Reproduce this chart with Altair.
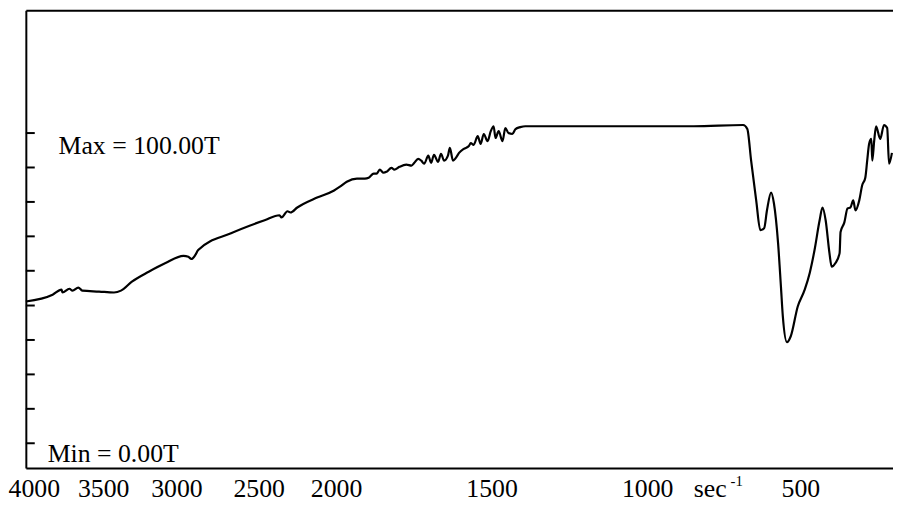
import altair as alt
import pandas as pd

# Spectrum: wavenumber (cm^-1) and transmittance (T, 0..100)
wavenumber = [4000, 3831, 3775, 3769, 3725, 3706, 3669, 3644, 3538, 3444,
              3400, 3331, 3225, 3119, 3006, 2975, 2956, 2931, 2913, 2706,
              2494, 2400, 2388, 2350, 2331, 2288, 2163, 2056, 2019, 1988,
              1956, 1931, 1919, 1903, 1894, 1884, 1872, 1863, 1847, 1838,
              1822, 1800, 1784, 1775, 1763, 1753, 1744, 1731, 1722, 1713,
              1700, 1691, 1681, 1669, 1663, 1653, 1644, 1634, 1619, 1603,
              1597, 1588, 1575, 1566, 1556, 1544, 1534, 1525, 1519, 1509,
              1497, 1488, 1478, 1466, 1456, 1441, 1425, 1206, 894, 738,
              725, 713, 697, 684, 672, 663, 650, 641, 628, 619,
              613, 600, 588, 566, 544, 528, 513, 497, 488, 478,
              466, 459, 447, 434, 431, 419, 409, 400, 391, 384,
              372, 363, 353, 347, 341, 334, 331, 325, 319, 306,
              294, 284, 278, 269]
transmittance = [45.7, 47.9, 49.5, 48.6, 49.8, 49.2, 50.2, 49.2, 48.9, 48.6,
                 49.2, 52.1, 55.3, 58.1, 60.4, 60.1, 59.4, 60.7, 62.3, 67.7,
                 71.9, 73.5, 72.8, 74.8, 74.4, 76.0, 79.2, 81.5, 82.7, 84.3,
                 85.3, 85.3, 85.6, 86.9, 86.9, 88.2, 87.2, 87.5, 88.8, 88.2,
                 89.1, 89.8, 89.5, 90.4, 91.7, 91.1, 90.1, 92.7, 90.4, 93.0,
                 90.7, 93.3, 91.1, 92.7, 95.2, 91.1, 92.0, 93.6, 94.9, 95.8,
                 96.8, 96.2, 99.0, 96.5, 99.7, 97.4, 100.6, 102.2, 98.4, 100.6,
                 97.4, 101.6, 100.0, 99.7, 101.3, 101.9, 102.2, 102.2, 102.2, 102.6,
                 101.3, 91.1, 78.3, 68.7, 69.3, 75.1, 80.8, 77.3, 64.5, 50.5,
                 40.9, 32.6, 34.5, 44.1, 49.5, 55.0, 62.3, 71.9, 76.0, 71.9,
                 61.3, 56.9, 58.1, 61.3, 68.1, 71.2, 75.7, 76.0, 78.3, 75.1,
                 78.3, 83.1, 85.6, 91.1, 96.5, 98.1, 91.1, 97.4, 102.2, 98.1,
                 102.6, 101.6, 90.1, 93.6]

tick_labels = [4000, 3500, 3000, 2500, 2000, 1500, 1000, 500]
y_ticks = [0, 11.1, 22.2, 33.3, 44.4, 55.6, 66.7, 77.8, 88.9, 100]

# Label axis: the printed labels are not evenly spaced (piecewise scale)
label_domain = [4100] + tick_labels + [265]
label_range = [0, 8, 78, 152, 235, 313, 470, 627, 781.5, 875.2]

FONT = "Liberation Serif"
FS = 26
W, H = 875, 462

df = pd.DataFrame({"wn": wavenumber, "T": transmittance,
                   "i": list(range(len(wavenumber)))})

yscale = alt.Scale(domain=[-8.0, 139.6], zero=False, nice=False)
xscale = alt.Scale(domain=[4000, 2000, 265], range=[0, 320, 875.2],
                   zero=False, nice=False)

frame_axis = dict(title=None, grid=False, labels=False, ticks=False,
                  domain=True, domainColor="black", domainWidth=2)

line = alt.Chart(df).mark_line(color="black", strokeWidth=2.2,
                               interpolate="monotone").encode(
    x=alt.X("wn:Q", scale=xscale, axis=alt.Axis(orient="top", **frame_axis)),
    y=alt.Y("T:Q", scale=yscale, axis=alt.Axis(orient="left", **frame_axis)),
    order="i:Q",
)

ticks = alt.Chart(pd.DataFrame({"t": y_ticks})).mark_rule(
    color="black", strokeWidth=2).encode(
    y=alt.Y("t:Q", scale=yscale, axis=alt.Axis(orient="left", **frame_axis)),
    x=alt.value(0), x2=alt.value(9),
)

axis_layer = alt.Chart(pd.DataFrame({"lab": tick_labels})).mark_point(
    opacity=0).encode(
    x=alt.X("lab:Q",
            scale=alt.Scale(domain=label_domain, range=label_range,
                            zero=False, nice=False),
            axis=alt.Axis(orient="bottom", values=tick_labels, title=None,
                          grid=False, domain=True, domainColor="black",
                          domainWidth=2, ticks=False, tickSize=0,
                          labelFont=FONT, labelFontSize=FS,
                          labelColor="black", labelPadding=29,
                          labelBaseline="alphabetic", labelOverlap=False,
                          labelFlush=False, format="d")),
    y=alt.value(0),
)


def txt(s, x, y, size):
    return alt.Chart(pd.DataFrame({"s": [s]})).mark_text(
        font=FONT, fontSize=size, align="left", baseline="alphabetic",
        color="black").encode(text="s:N", x=alt.value(x), y=alt.value(y))


max_text = txt("Max = 100.00T", 33, 145, FS)
min_text = txt("Min = 0.00T", 22, 456, FS)
sec_text = txt("sec", 674, 491, FS)
sup_text = txt("-1", 711, 480, 15)

chart = alt.layer(line, ticks, axis_layer, max_text, min_text,
                  sec_text, sup_text).resolve_scale(x="independent").properties(
    width=W, height=H,
    autosize=alt.AutoSizeParams(type="none"),
    padding={"left": 18, "top": 0, "right": 0, "bottom": 32},
).configure_view(stroke=None)

chart.save("out.html", embed_options={"renderer": "svg", "actions": False})
